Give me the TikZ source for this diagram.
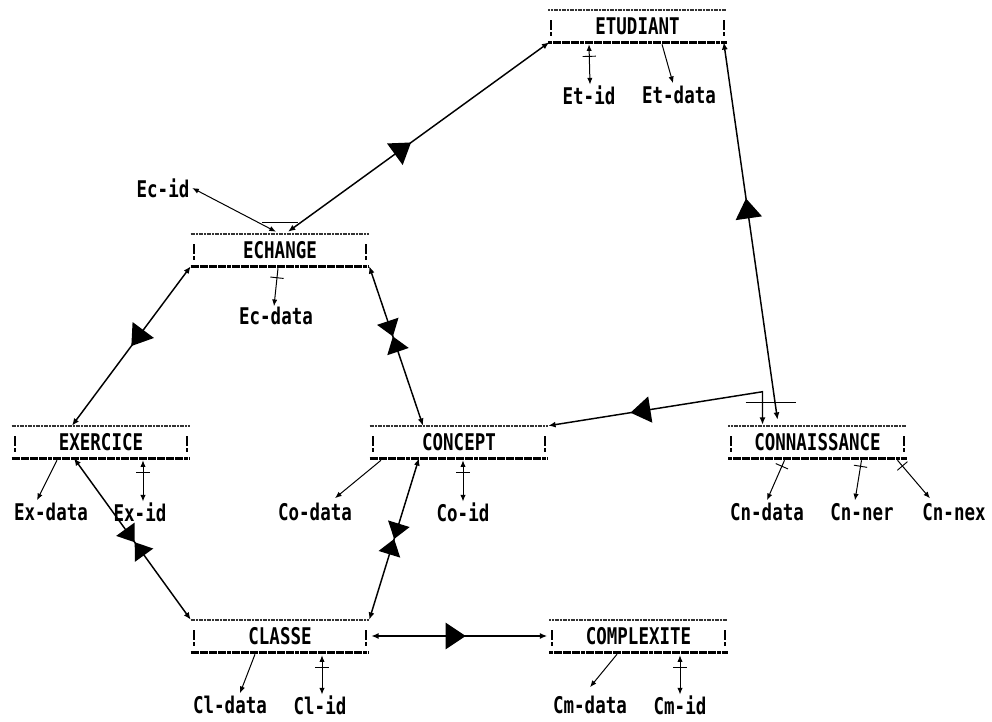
\documentclass[tikz,border=0pt]{standalone}
\usepackage{fontspec}
\usepackage{graphicx}
\newfontfamily\dotfont{DejaVu Sans Mono}
\usetikzlibrary{arrows.meta,calc}
\newcommand\entfont{\dotfont\bfseries\fontsize{13.8}{15}\selectfont}
\newcommand\tx[1]{\scalebox{0.95}[1.25]{#1}}
\tikzset{
  tri/.pic={\fill[black,-] (7.5pt,0) -- (-7.5pt,10pt) -- (-7.5pt,-10pt) -- cycle;},
  bowtie/.pic={\fill[black,-] (0,0) -- (-12pt,8.5pt) -- (-12pt,-8.5pt) -- cycle;
               \fill[black,-] (0,0) -- (12pt,8.5pt) -- (12pt,-8.5pt) -- cycle;},
  tick/.pic={\draw[-,line width=0.7pt] (0,-5pt) -- (0,5pt);},
  along/.style={sloped,allow upside down},
}
\begin{document}
\begin{tikzpicture}[x=0.75pt,y=-0.75pt,
  ent/.style={minimum width=133.5pt,minimum height=24pt,inner sep=0pt,font=\entfont},
  att/.style={inner sep=0.5pt,font=\entfont},
  topl/.style={line width=1.5pt,black!80,dash pattern=on 1.5pt off 0.5pt},
  botl/.style={line width=1.9pt,black,dash pattern=on 3pt off 0.4pt},
  barl/.style={line width=1.6pt},
  rel/.style={line width=1.1pt,{Latex[length=5.5pt,width=4.5pt]}-{Latex[length=5.5pt,width=4.5pt]}},
  attl/.style={line width=0.75pt,-{Latex[length=5pt,width=4pt]}},
  idl/.style={line width=0.75pt,{Latex[length=5pt,width=4pt]}-{Latex[length=5pt,width=4pt]}},
  crossl/.style={line width=0.75pt}]
\useasboundingbox (0,0) rectangle (992,721);

% entities
\node[ent] (etu) at (637.5,26) {\tx{ETUDIANT}};
\node[ent] (ech) at (280,250) {\tx{ECHANGE}};
\node[ent] (exe) at (101,442) {\tx{EXERCICE}};
\node[ent] (con) at (459,442) {\tx{CONCEPT}};
\node[ent] (cnn) at (817.5,442) {\tx{CONNAISSANCE}};
\node[ent] (cla) at (280,636) {\tx{CLASSE}};
\node[ent] (cpx) at (638.5,636) {\tx{COMPLEXITE}};

\foreach \n in {etu,ech,exe,con,cnn,cla,cpx}{
  \draw[topl] (\n.north west) -- (\n.north east);
  \draw[botl] (\n.south west) -- (\n.south east);
  \draw[barl] ($(\n.west)+(3,-6)$) -- ($(\n.west)+(3,4)$)
              ($(\n.west)+(3,6)$) -- ($(\n.west)+(3,10)$);
  \draw[barl] ($(\n.east)+(-3,-6)$) -- ($(\n.east)+(-3,4)$)
              ($(\n.east)+(-3,6)$) -- ($(\n.east)+(-3,10)$);
}

% attributes
\node[att] (etid) at (589,95) {\tx{Et-id}};
\node[att] (etdata) at (679,95) {\tx{Et-data}};
\node[att] (ecid) at (163,188) {\tx{Ec-id}};
\node[att] (ecdata) at (276,316) {\tx{Ec-data}};
\node[att] (exdata) at (51,512) {\tx{Ex-data}};
\node[att] (exid) at (140,512) {\tx{Ex-id}};
\node[att] (codata) at (315,512) {\tx{Co-data}};
\node[att] (coid) at (463,512) {\tx{Co-id}};
\node[att] (cndata) at (767,512) {\tx{Cn-data}};
\node[att] (cnner) at (862,512) {\tx{Cn-ner}};
\node[att] (cnnex) at (954,512) {\tx{Cn-nex}};
\node[att] (cldata) at (230,705) {\tx{Cl-data}};
\node[att] (clid) at (320,705) {\tx{Cl-id}};
\node[att] (cmdata) at (590,705) {\tx{Cm-data}};
\node[att] (cmid) at (680,705) {\tx{Cm-id}};

% attribute links
\draw[idl] ($(etu.south)+(-48.5,2)$) -- pic[pos=0.3,along]{tick} ($(etid.north)+(1,0)$);
\draw[attl] ($(etu.south)+(24.5,2)$) -- ($(etdata.north)+(-6,-2)$);
\draw[idl] ($(ech.north)+(-4,-2)$) -- ($(ecid.east)+(2,0)$);
\draw[crossl] ($(ech.north)+(-18,-11)$) -- ($(ech.north)+(18,-11)$);
\draw[attl] ($(ech.south)+(-2,2)$) -- pic[pos=0.25,along]{tick} ($(ecdata.north)+(-2,0)$);
\draw[attl] ($(exe.south)+(-44,2)$) -- ($(exdata.north)+(-14,-2)$);
\draw[idl] ($(exe.south)+(42,2)$) -- pic[pos=0.3,along]{tick} ($(exid.north)+(3,0)$);
\draw[attl] ($(con.south)+(-78,2)$) -- ($(codata.north)+(20,-4)$);
\draw[idl] ($(con.south)+(4,2)$) -- pic[pos=0.3,along]{tick} (coid.north);
\draw[attl] ($(cnn.south)+(-33,2)$) -- pic[pos=0.15,along]{tick} ($(cndata.north)+(0,-2)$);
\draw[attl] ($(cnn.south)+(44,2)$) -- pic[pos=0.15,along]{tick} ($(cnner.north)+(-7,-2)$);
\draw[attl] ($(cnn.south)+(80,2)$) -- pic[pos=0.15,along]{tick} ($(cnnex.north)+(-24,-4)$);
\draw[attl] ($(cla.south)+(-25,2)$) -- ($(cldata.north)+(10,-2)$);
\draw[idl] ($(cla.south)+(42,3)$) -- pic[pos=0.3,along]{tick} ($(clid.north)+(2,0)$);
\draw[attl] ($(cpx.south)+(-21.5,2)$) -- ($(cmdata.north)+(0,-8)$);
\draw[idl] ($(cpx.south)+(41.5,3)$) -- pic[pos=0.3,along]{tick} (cmid.north);

% relationships
\draw[rel] ($(ech.north)+(8,-2)$) -- pic[pos=0.44,along]{tri} ($(etu.south west)+(1,0)$);
\draw[rel] ($(cnn.north)+(-40,-6)$) -- pic[pos=0.56,along]{tri} ($(etu.south east)+(-3,0)$);
\draw[rel] ($(cnn.north)+(-55,-1)$) -- ($(cnn.north)+(-55,-34)$)
           -- pic[pos=0.57,along]{tri} (con.north east);
\draw[crossl] ($(cnn.north)+(-72,-23)$) -- ($(cnn.north)+(-22,-23)$);
\draw[rel] (ech.south west) -- pic[pos=0.45,along]{tri} ($(exe.north)+(-29,0)$);
\draw[rel] (ech.south east) -- pic[pos=0.44,along]{bowtie} ($(con.north)+(-36,0)$);
\draw[rel] ($(exe.south)+(-27,0)$) -- pic[pos=0.52,along]{bowtie} (cla.north west);
\draw[rel] ($(con.south)+(-40,0)$) -- pic[pos=0.5,along]{bowtie} (cla.north east);
\draw[rel] ($(cla.east)+(2,0)$) -- pic[pos=0.48,along]{tri} ($(cpx.west)+(-2,0)$);
\end{tikzpicture}
\end{document}
